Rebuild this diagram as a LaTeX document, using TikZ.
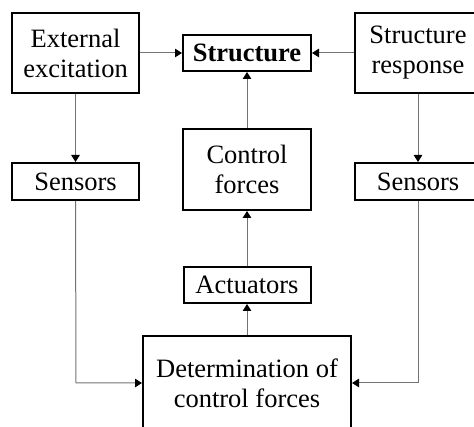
\documentclass[tikz,border=0pt]{standalone}
\usepackage{fontspec}
\setmainfont{Liberation Serif}
\usetikzlibrary{arrows.meta}
\begin{document}
\begin{tikzpicture}[x=1pt,y=-1pt,
  box/.style={draw=black,line width=2pt,fill=white,align=center,inner sep=0pt,
    font=\fontsize{26.5}{30}\selectfont},
  conn/.style={draw=black!55,line width=1pt,-{Triangle[length=7pt,width=8.5pt,black]}},
  wire/.style={draw=black!55,line width=1pt}]
\useasboundingbox (0,0) rectangle (474,427);
\clip (0,0) rectangle (474,427);
\node[box,minimum width=127pt,minimum height=80pt] (ext) at (75.5,53) {External\\excitation};
\node[box,minimum width=128pt,minimum height=36pt] (str) at (247,53) {\bfseries Structure};
\node[box,minimum width=126pt,minimum height=80pt] (resp) at (418,53) {Structure\\response};
\node[box,minimum width=127pt,minimum height=37pt] (sl) at (75.5,181.5) {Sensors};
\node[box,minimum width=126pt,minimum height=37pt] (sr) at (418,181.5) {Sensors};
\node[box,minimum width=128pt,minimum height=81pt] (ctrl) at (247,169.5) {Control\\forces};
\node[box,minimum width=127pt,minimum height=36pt] (act) at (247,285) {Actuators};
\node[box,minimum width=208pt,minimum height=94pt] (det) at (247,383) {Determination of\\control forces};
\coordinate (cl) at (76,383);
\coordinate (cr) at (418,383);
\draw[conn] (ext.east) -- (str.west);
\draw[conn] (resp.west) -- (str.east);
\draw[conn] (ext.south) -- (sl.north);
\draw[conn] (resp.south) -- (sr.north);
\draw[conn] (ctrl.north) -- (str.south);
\draw[conn] (act.north) -- (ctrl.south);
\draw[conn] (det.north) -- (act.south);
\draw[conn] (sl.south) -- (cl) -- (det.west);
\draw[conn] (sr.south) -- (cr) -- (det.east);
\end{tikzpicture}
\end{document}
